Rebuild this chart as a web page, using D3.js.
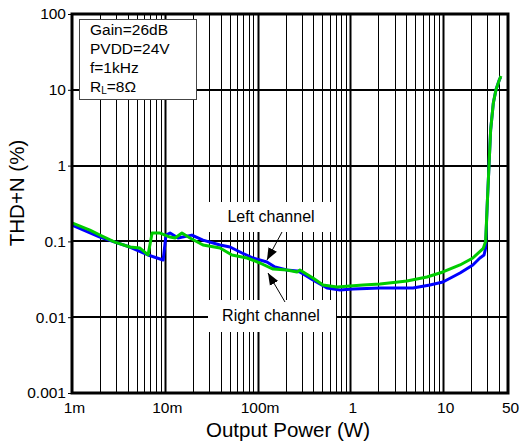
<!DOCTYPE html>
<html>
<head>
<meta charset="utf-8">
<script src="https://cdn.jsdelivr.net/npm/d3@7"></script>
<style>
  html, body { margin: 0; padding: 0; background: #fff; }
  svg { display: block; font-family: "Liberation Sans", Arial, sans-serif; }
</style>
</head>
<body>
<svg id="chart" width="521" height="444"></svg>
<script>
// ---- Data ----
const leftPower = [0.001, 0.002, 0.0029, 0.0042, 0.0066, 0.0089, 0.0096, 0.0103, 0.0114, 0.0139, 0.0196, 0.0258, 0.0394, 0.0505, 0.068, 0.0892, 0.126, 0.154, 0.207, 0.266, 0.286, 0.395, 0.56, 0.773, 1.07, 2.09, 4.73, 7.21, 9.95, 15.2, 20.9, 24.9, 27.6, 28.6, 29.9, 31.2, 32.5, 34.7, 37.1, 40.0, 41.5];
const leftTHD   = [0.164, 0.114, 0.098, 0.0843, 0.0662, 0.0586, 0.0569, 0.121, 0.129, 0.111, 0.121, 0.104, 0.0897, 0.0843, 0.0703, 0.0604, 0.0535, 0.0459, 0.042, 0.0407, 0.0395, 0.031, 0.0243, 0.0229, 0.0236, 0.0243, 0.0243, 0.0266, 0.0291, 0.0383, 0.0489, 0.0604, 0.0662, 0.08, 0.318, 1, 2.95, 6.63, 10, 13.2, 14.6];

const rightPower = [0.001, 0.00156, 0.002, 0.0029, 0.0042, 0.0054, 0.0066, 0.0073, 0.0089, 0.0114, 0.0129, 0.0153, 0.0187, 0.0258, 0.0394, 0.053, 0.0769, 0.106, 0.147, 0.207, 0.266, 0.286, 0.395, 0.507, 0.718, 1.37, 2.09, 4.07, 6.69, 9.95, 15.2, 20.9, 27.1, 28.7, 29.9, 31.2, 32.5, 34.7, 37.1, 40.3, 42.0];
const rightTHD   = [0.175, 0.141, 0.121, 0.098, 0.0843, 0.0818, 0.0662, 0.129, 0.129, 0.114, 0.111, 0.129, 0.111, 0.0897, 0.0818, 0.0662, 0.0604, 0.0519, 0.0432, 0.042, 0.0395, 0.042, 0.0329, 0.0266, 0.025, 0.0266, 0.0274, 0.030, 0.0339, 0.0395, 0.0489, 0.0604, 0.081, 0.1, 0.318, 1, 2.95, 6.63, 10, 13.5, 15.2];

const xTickValues = [0.001, 0.01, 0.1, 1, 10, 50];
const xTickLabels = ["1m", "10m", "100m", "1", "10", "50"];
const yTickValues = [0.001, 0.01, 0.1, 1, 10, 100];
const yTickLabels = ["0.001", "0.01", "0.1", "1", "10", "100"];

const conditions = ["Gain=26dB", "PVDD=24V", "f=1kHz"];
const seriesNames = ["Left channel", "Right channel"];
const seriesColors = ["#0000ff", "#00cc00"];

// ---- Layout ----
const L = 72, R = 508, T = 14, B = 393;
const svg = d3.select("#chart");
const x = d3.scaleLog().domain([0.001, 50]).range([L, R]);
const y = d3.scaleLog().domain([0.001, 100]).range([B, T]);

// grid: vertical minor + major
const vGrid = [];
for (let e = -3; e <= 1; e++) {
  for (let m = 1; m <= 9; m++) {
    const v = m * Math.pow(10, e);
    if (v > 0.0010001 && v < 49.9) vGrid.push({ v, major: m === 1 });
  }
}
const grid = svg.append("g");
grid.selectAll("line.v").data(vGrid).enter().append("line")
  .attr("x1", d => Math.round(x(d.v)) + 0.5).attr("x2", d => Math.round(x(d.v)) + 0.5)
  .attr("y1", T).attr("y2", B)
  .attr("stroke", "#000").attr("stroke-width", d => d.major ? 2 : 1);
grid.selectAll("line.h").data(yTickValues.slice(1, -1)).enter().append("line")
  .attr("x1", L).attr("x2", R)
  .attr("y1", d => Math.round(y(d))).attr("y2", d => Math.round(y(d)))
  .attr("stroke", "#000").attr("stroke-width", 2);

// curves
const line = d3.line().x(d => x(d[0])).y(d => y(d[1]));
const leftData = leftPower.map((p, i) => [p, leftTHD[i]]);
const rightData = rightPower.map((p, i) => [p, rightTHD[i]]);
svg.append("path").datum(leftData).attr("d", line)
  .attr("fill", "none").attr("stroke", seriesColors[0]).attr("stroke-width", 3)
  .attr("stroke-linejoin", "round");
svg.append("path").datum(rightData).attr("d", line)
  .attr("fill", "none").attr("stroke", seriesColors[1]).attr("stroke-width", 3)
  .attr("stroke-linejoin", "round");

// frame
svg.append("rect").attr("x", L).attr("y", T).attr("width", R - L).attr("height", B - T)
  .attr("fill", "none").attr("stroke", "#000").attr("stroke-width", 3);

// axes labels
const yAxis = d3.axisLeft(y).tickValues(yTickValues)
  .tickFormat((d, i) => yTickLabels[i]).tickSize(3).tickPadding(2);
const gy = svg.append("g").attr("transform", `translate(${L - 1},0)`).call(yAxis);
gy.select(".domain").remove();
gy.selectAll("text").attr("font-size", 15.5).attr("fill", "#000").attr("font-family", "Liberation Sans, Arial, sans-serif");
gy.selectAll("line").attr("stroke", "#000");

const xAxis = d3.axisBottom(x).tickValues(xTickValues)
  .tickFormat((d, i) => xTickLabels[i]).tickSize(0).tickPadding(9);
const gx = svg.append("g").attr("transform", `translate(2,${B})`).call(xAxis);
gx.select(".domain").remove();
gx.selectAll("text").attr("font-size", 15.5).attr("fill", "#000").attr("font-family", "Liberation Sans, Arial, sans-serif");

svg.append("text").attr("x", 288).attr("y", 437).attr("text-anchor", "middle")
  .attr("font-size", 20.5).text("Output Power (W)");
svg.append("text").attr("transform", "translate(24,193) rotate(-90)").attr("text-anchor", "middle")
  .attr("font-size", 20.5).text("THD+N (%)");

// conditions box
const cb = svg.append("g");
cb.append("rect").attr("x", 79.5).attr("y", 19.5).attr("width", 117).attr("height", 80)
  .attr("fill", "#fff").attr("stroke", "#444").attr("stroke-width", 1);
conditions.forEach((t, i) => {
  cb.append("text").attr("x", 90).attr("y", 35 + i * 19).attr("font-size", 15.5).text(t);
});
const rl = cb.append("text").attr("x", 90).attr("y", 35 + 3 * 19).attr("font-size", 15.5);
rl.append("tspan").text("R");
rl.append("tspan").attr("font-size", 10).attr("dy", 2).text("L");
rl.append("tspan").attr("dy", -2).text("=8Ω");

// series annotations
const ann = [
  { name: seriesNames[0], box: [208, 202, 128, 30], ty: 222, from: [282, 232], to: [267, 260] },
  { name: seriesNames[1], box: [208, 300, 128, 32], ty: 321, from: [285, 302], to: [268, 273] }
];
svg.append("defs").append("marker").attr("id", "arr")
  .attr("viewBox", "0 0 10 10").attr("refX", 10).attr("refY", 5)
  .attr("markerWidth", 12).attr("markerHeight", 12).attr("markerUnits", "userSpaceOnUse")
  .attr("orient", "auto")
  .append("path").attr("d", "M0,1 L10,5 L0,9 Z").attr("fill", "#000");
ann.forEach(a => {
  svg.append("rect").attr("x", a.box[0]).attr("y", a.box[1]).attr("width", a.box[2]).attr("height", a.box[3])
    .attr("fill", "#fff");
  svg.append("text").attr("x", a.box[0] + a.box[2] / 2 - 1).attr("y", a.ty).attr("text-anchor", "middle")
    .attr("font-size", 16).text(a.name);
  svg.append("line").attr("x1", a.from[0]).attr("y1", a.from[1]).attr("x2", a.to[0]).attr("y2", a.to[1])
    .attr("stroke", "#000").attr("stroke-width", 1).attr("marker-end", "url(#arr)");
});
</script>
</body>
</html>
